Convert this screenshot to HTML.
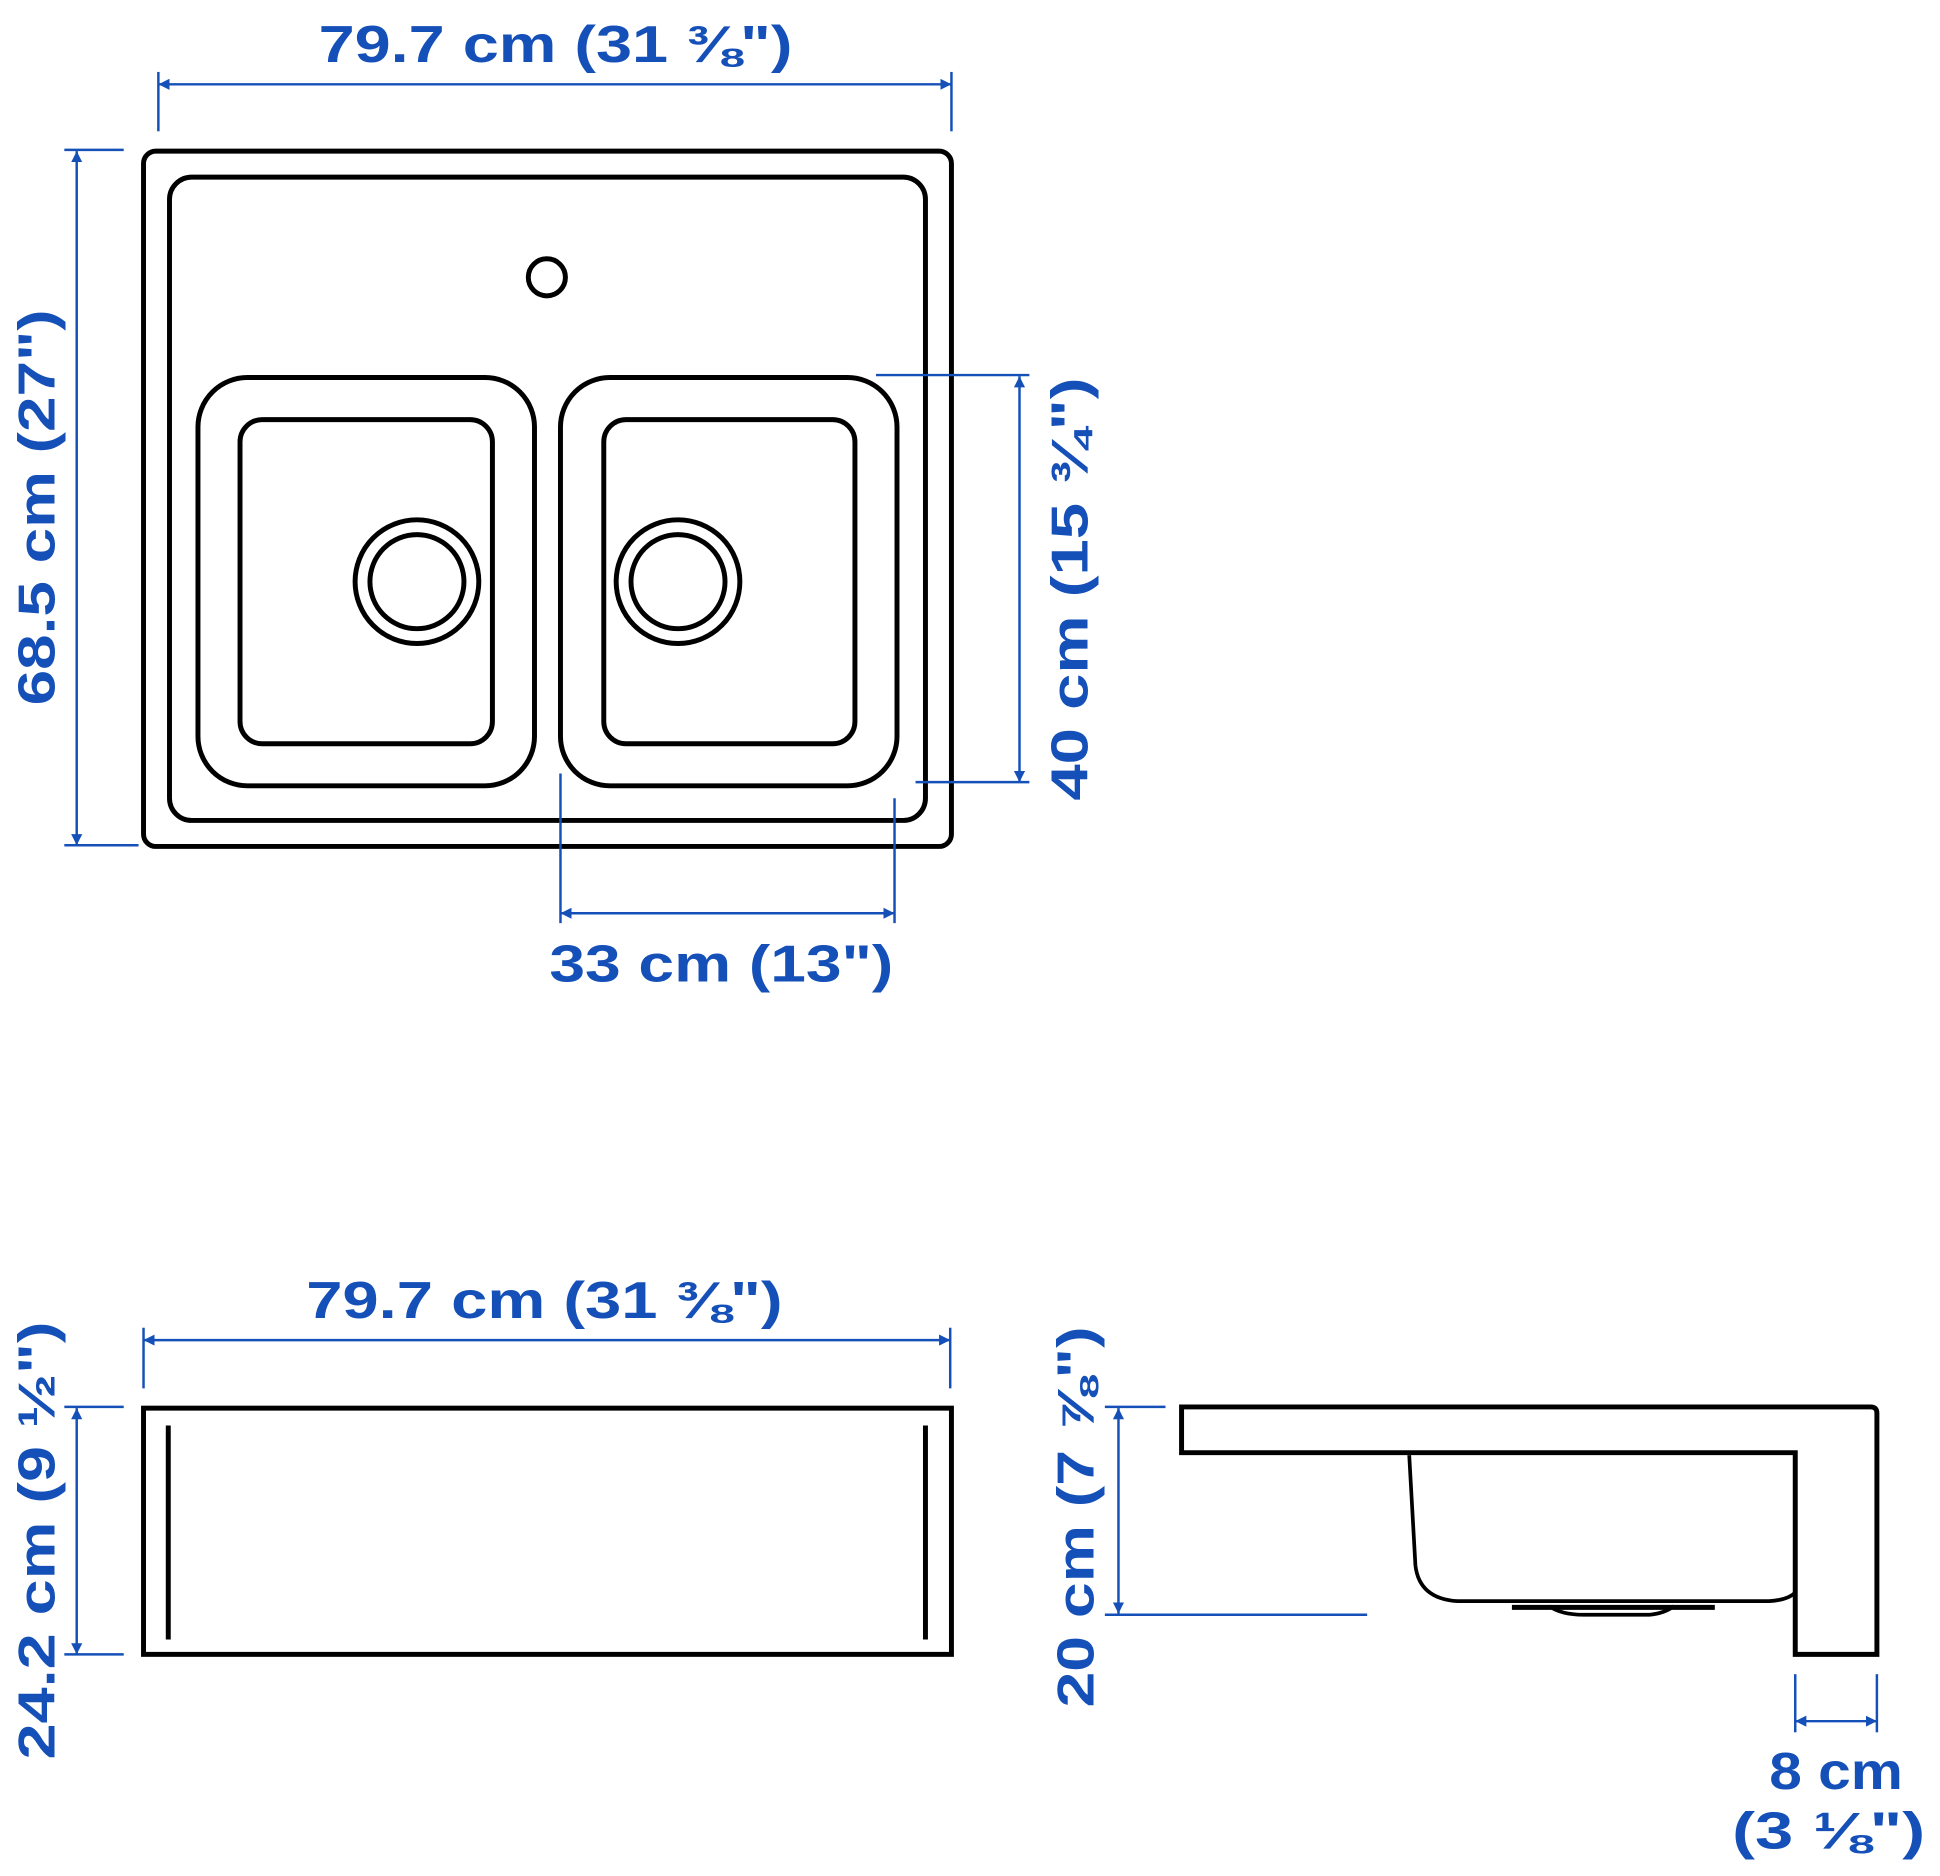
<!DOCTYPE html>
<html><head><meta charset="utf-8"><style>html,body{margin:0;padding:0;background:#fff}svg{display:block}</style></head>
<body>
<svg width="1940" height="1876" viewBox="0 0 1568 1516" xmlns="http://www.w3.org/2000/svg">
<defs>
<marker id="a" viewBox="0 0 10 10" refX="10" refY="5" markerWidth="9" markerHeight="9" orient="auto-start-reverse" markerUnits="userSpaceOnUse"><path d="M0,0 L10,5 L0,10 z" fill="#1550b8"/></marker>
</defs>
<g fill="none" stroke="#000" stroke-width="4">
<rect x="116" y="122" width="653" height="562" rx="10"/>
<rect x="137" y="143" width="611" height="520" rx="18"/>
<circle cx="442" cy="224" r="15"/>
<rect x="160" y="305" width="272" height="330" rx="40"/>
<rect x="194" y="339" width="204" height="262" rx="18"/>
<circle cx="337" cy="470" r="50"/><circle cx="337" cy="470" r="38"/>
<rect x="453" y="305" width="272" height="330" rx="40"/>
<rect x="488" y="339" width="203" height="262" rx="18"/>
<circle cx="548" cy="470" r="50"/><circle cx="548" cy="470" r="38"/>
<rect x="116" y="1138" width="653" height="199"/>
<line x1="136" y1="1152" x2="136" y2="1325"/><line x1="748" y1="1152" x2="748" y2="1325"/>
<path d="M955,1137 L1512,1137 Q1517,1137 1517,1142 L1517,1337 L1451,1337 L1451,1174 L955,1174 Z"/>
<path d="M1139,1176 L1144,1265 Q1147,1292 1178,1294 L1430,1294 Q1445,1293 1451,1287" stroke-width="3"/>
<path d="M1222,1299 L1386,1299" stroke-width="4"/>
<path d="M1252,1298 Q1262,1305 1280,1305 L1333,1305 Q1345,1304 1353,1298" stroke-width="3"/>
</g>
<g stroke="#1550b8" stroke-width="2" fill="none">
<line x1="128" y1="68" x2="769" y2="68" marker-start="url(#a)" marker-end="url(#a)"/>
<line x1="128" y1="58" x2="128" y2="106"/><line x1="769" y1="58" x2="769" y2="106"/>
<line x1="62" y1="122" x2="62" y2="683" marker-start="url(#a)" marker-end="url(#a)"/>
<line x1="52" y1="121" x2="100" y2="121"/><line x1="52" y1="683" x2="112" y2="683"/>
<line x1="824" y1="304" x2="824" y2="632" marker-start="url(#a)" marker-end="url(#a)"/>
<line x1="708" y1="303" x2="832" y2="303"/><line x1="740" y1="632" x2="832" y2="632"/>
<line x1="453" y1="738" x2="723" y2="738" marker-start="url(#a)" marker-end="url(#a)"/>
<line x1="453" y1="625" x2="453" y2="746"/><line x1="723" y1="645" x2="723" y2="746"/>
<line x1="116" y1="1083" x2="768" y2="1083" marker-start="url(#a)" marker-end="url(#a)"/>
<line x1="116" y1="1073" x2="116" y2="1122"/><line x1="768" y1="1073" x2="768" y2="1122"/>
<line x1="62" y1="1138" x2="62" y2="1337" marker-start="url(#a)" marker-end="url(#a)"/>
<line x1="52" y1="1137" x2="100" y2="1137"/><line x1="52" y1="1337" x2="100" y2="1337"/>
<line x1="904" y1="1138" x2="904" y2="1304" marker-start="url(#a)" marker-end="url(#a)"/>
<line x1="893" y1="1137" x2="942" y2="1137"/><line x1="893" y1="1305" x2="1105" y2="1305"/>
<line x1="1451" y1="1391" x2="1517" y2="1391" marker-start="url(#a)" marker-end="url(#a)"/>
<line x1="1451" y1="1353" x2="1451" y2="1400"/><line x1="1517" y1="1353" x2="1517" y2="1400"/>
</g>
<g fill="#1550b8" font-family="Liberation Sans, sans-serif" font-weight="bold" font-size="42" text-anchor="middle" lengthAdjust="spacingAndGlyphs">
<text x="449" y="50" textLength="383" lengthAdjust="spacingAndGlyphs">79.7 cm (31 ⅜")</text>
<text transform="translate(44,410) rotate(-90)" textLength="320" lengthAdjust="spacingAndGlyphs">68.5 cm (27")</text>
<text transform="translate(879,476) rotate(-90)" textLength="342" lengthAdjust="spacingAndGlyphs">40 cm (15 ¾")</text>
<text x="583" y="793" textLength="278" lengthAdjust="spacingAndGlyphs">33 cm (13")</text>
<text x="440" y="1065" textLength="385" lengthAdjust="spacingAndGlyphs">79.7 cm (31 ⅜")</text>
<text transform="translate(44,1245) rotate(-90)" textLength="354" lengthAdjust="spacingAndGlyphs">24.2 cm (9 ½")</text>
<text transform="translate(884,1226) rotate(-90)" textLength="308" lengthAdjust="spacingAndGlyphs">20 cm (7 ⅞")</text>
<text x="1484" y="1446" textLength="108" lengthAdjust="spacingAndGlyphs">8 cm</text>
<text x="1478" y="1494" textLength="156" lengthAdjust="spacingAndGlyphs">(3 ⅛")</text>
</g>
</svg>
</body></html>
